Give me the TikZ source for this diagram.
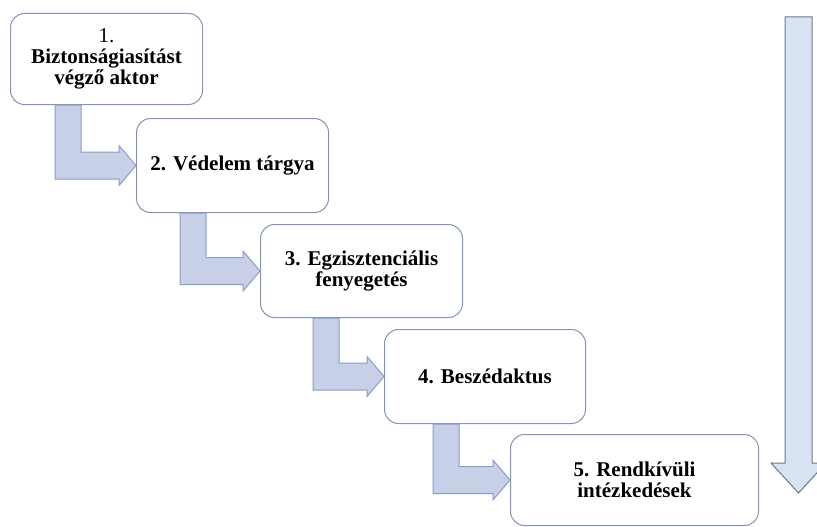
\documentclass[tikz,border=0pt]{standalone}
\usepackage{fontspec}
\setmainfont{Liberation Serif}
\usetikzlibrary{calc}
\definecolor{cedge}{HTML}{8296B4}
\definecolor{cflow}{HTML}{C8D0E8}
\definecolor{cflowedge}{HTML}{8C9BC8}
\definecolor{cbig}{HTML}{DAE3F3}
\definecolor{cbigedge}{HTML}{6E7887}
\tikzset{
  every picture/.style={line width=1pt},
  stage/.style={draw=cedge, fill=white, rounded corners=14pt, align=center, anchor=north west, inner sep=4pt, font=\fontsize{21}{21}\selectfont\bfseries},
  flow/.style={draw=cflowedge, fill=cflow, line width=1pt},
  trend/.style={draw=cbigedge, fill=cbig, line width=1pt},
}
% bent block arrow: source, target, shaft offset from the source's left edge
\newcommand{\bentarrow}[3]{%
  \draw[flow] ($(#1.south west)+(#3,0)$) coordinate (s) -- ++(26,0)
    |- ($(#2.west)+(-17,-13.5)$) -- ++(0,-6.5) -- (#2.west)
    -- ($(#2.west)+(-17,20)$) -- ++(0,-6.5) -| (s) -- cycle;
}

\begin{document}
\begin{tikzpicture}[x=1pt, y=-1pt]
  \clip (0,0) rectangle (817,527);
  \node[stage, minimum width=192pt, minimum height=91pt] (actor) at (10,13) {{\mdseries 1.}\\Biztonságiasítást\\végző aktor};
  \node[stage, minimum width=192pt, minimum height=94pt] (object) at (136,118) {2. Védelem tárgya};
  \node[stage, minimum width=202pt, minimum height=93pt] (threat) at (260,224) {3. Egzisztenciális\\fenyegetés};
  \node[stage, minimum width=201pt, minimum height=94pt] (speech) at (384,329) {4. Beszédaktus};
  \node[stage, minimum width=248pt, minimum height=91pt] (measures) at (510,434) {5. Rendkívüli\\intézkedések};
  \bentarrow{actor}{object}{45}
  \bentarrow{object}{threat}{44}
  \bentarrow{threat}{speech}{53}
  \bentarrow{speech}{measures}{49}
  % long arrow on the right
  \draw[trend] (785,17) -- (812,17) -- (812,463) -- (826,463) -- (798.5,493)
    -- (771,463) -- (785,463) -- cycle;
\end{tikzpicture}
\end{document}
